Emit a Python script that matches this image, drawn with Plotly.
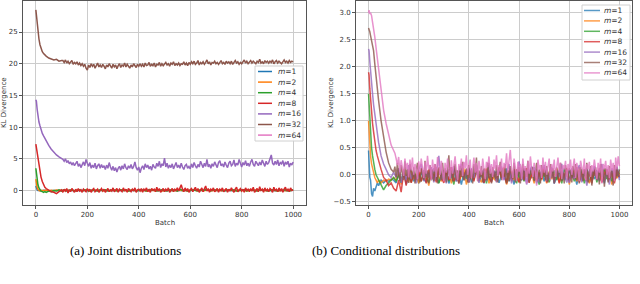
import plotly.graph_objects as go

# ---------------- data ----------------
BATCH_HEAD = [0, 2, 5, 8, 12, 16, 20, 25, 30, 35, 40, 50, 60, 70, 80, 90, 100]
BATCH = BATCH_HEAD + list(range(110, 1001, 10))        # step-10 logging
BATCH_DENSE = BATCH_HEAD + list(range(105, 1001, 5))   # step-5 logging

M_LABELS = ["1", "2", "4", "8", "16", "32", "64"]
COLORS = ["#1f77b4", "#ff7f0e", "#2ca02c", "#d62728", "#9467bd", "#8c564b", "#e377c2"]

X_TICKS = [0, 200, 400, 600, 800, 1000]
Y_TICKS_JOINT = [0, 5, 10, 15, 20, 25]
Y_TICKS_COND = [-0.5, 0.0, 0.5, 1.0, 1.5, 2.0, 2.5, 3.0]

# (a) Joint distributions
J_M1 = [0.7, 0.3, 0.1, 0.0, -0.05, 0.02, -0.03, 0.0, 0.04, -0.02, 0.01, -0.04, 0.02, 0.0, -0.03, 0.03, -0.01,
        0.02, -0.03, 0.04, -0.01, 0.03, -0.04, 0.01, 0.03, -0.02, 0.0,
        -0.03, 0.02, 0.0, 0.04, -0.02, 0.01, -0.04, 0.03, 0.0, -0.01,
        0.03, -0.02, 0.01, -0.03, 0.04, 0.0, -0.01, 0.02, -0.04, 0.03,
        0.0, 0.02, -0.03, 0.01, 0.04, -0.02, 0.0, -0.03, 0.02, 0.01,
        -0.02, 0.03, 0.0, -0.04, 0.02, 0.01, 0.03, -0.01, 0.0, -0.03,
        0.04, -0.02, 0.01, 0.0, -0.03, 0.02, 0.03, -0.04, 0.01, 0.0,
        -0.01, 0.03, -0.02, 0.04, 0.0, -0.03, 0.02, 0.01, -0.02, 0.03,
        0.0, -0.04, 0.02, 0.03, -0.01, 0.0, 0.04, -0.03, 0.01, -0.02,
        0.03, 0.0, -0.02, 0.01, 0.04, -0.03, 0.0, 0.02, -0.01, 0.03]
J_M2 = [1.8, 1.1, 0.45, 0.15, 0.0, -0.1, 0.05, -0.08, 0.02, -0.05, 0.06, -0.04, 0.03, -0.06, 0.05, -0.02, 0.04,
        -0.06, 0.08, -0.02, 0.05, -0.09, 0.03, 0.07, -0.05, 0.0, 0.09,
        -0.07, 0.02, 0.06, -0.04, 0.08, -0.08, 0.01, 0.05, -0.03, 0.07,
        0.0, -0.06, 0.09, -0.02, 0.04, -0.08, 0.06, 0.01, -0.05, 0.08,
        -0.03, 0.05, -0.07, 0.02, 0.09, -0.04, 0.0, 0.06, -0.08, 0.03,
        0.07, -0.02, 0.04, -0.06, 0.01, 0.08, -0.05, 0.03, -0.09, 0.05,
        -0.01, 0.07, -0.04, 0.06, -0.07, 0.02, 0.09, -0.03, 0.04, -0.06,
        0.08, -0.05, 0.01, 0.06, -0.02, 0.07, -0.08, 0.03, 0.05, -0.04,
        0.02, -0.07, 0.08, -0.01, 0.05, -0.05, 0.03, 0.09, -0.06, 0.0,
        0.06, -0.03, 0.07, -0.08, 0.02, 0.04, -0.05, 0.08, -0.02, 0.05]
J_M4 = [3.5, 2.6, 1.6, 0.9, 0.4, 0.1, -0.1, -0.2, -0.3, -0.2, -0.3, -0.1, -0.2, 0.0, -0.1, 0.1, -0.1,
        0.1, -0.1, 0.0, 0.1, -0.1, 0.0, 0.1, -0.1, 0.1, 0.0,
        -0.1, 0.1, 0.0, -0.1, 0.1, 0.0, 0.1, -0.1, 0.0, 0.1,
        0.0, -0.1, 0.1, 0.0, 0.1, -0.1, 0.0, 0.1, -0.1, 0.0,
        0.1, 0.0, -0.1, 0.1, 0.0, 0.1, -0.1, 0.0, 0.1, 0.0,
        -0.1, 0.1, 0.0, 0.1, -0.1, 0.2, 0.0, 0.1, -0.1, 0.0,
        0.1, 0.0, -0.1, 0.1, 0.0, 0.1, 0.0, -0.1, 0.1, 0.0,
        0.0, 0.1, -0.1, 0.0, 0.1, 0.0, 0.1, -0.1, 0.0, 0.1,
        0.1, -0.1, 0.0, 0.1, 0.0, -0.1, 0.1, 0.0, 0.1, -0.1,
        0.0, 0.1, 0.0, -0.1, 0.1, 0.0, 0.1, -0.1, 0.0, 0.1]
J_M8 = [7.3, 6.8, 5.6, 4.6, 3.6, 2.8, 2.1, 1.4, 0.9, 0.5, 0.3, 0.0, -0.2, -0.3, -0.5, -0.2, 0.1,
        -0.3, 0.2, -0.1, 0.3, -0.4, 0.1, -0.2, 0.3, 0.0, -0.3,
        0.2, -0.2, 0.3, -0.1, 0.1, -0.3, 0.2, 0.0, -0.2, 0.3,
        -0.1, 0.2, -0.3, 0.1, 0.3, -0.2, 0.0, 0.2, -0.3, 0.1,
        0.3, -0.1, 0.2, -0.3, 0.0, 0.3, -0.2, 0.1, -0.1, 0.4,
        -0.2, 0.1, 0.3, -0.3, 0.2, 0.0, -0.2, 0.4, -0.1, 0.2,
        -0.3, 0.3, 0.0, -0.2, 0.2, -0.1, 0.4, -0.3, 0.1, 0.2,
        -0.1, 0.3, -0.3, 0.2, 0.0, 0.4, -0.2, 0.1, -0.3, 0.3,
        0.0, 0.2, -0.2, 0.5, -0.1, 0.3, -0.3, 0.1, 0.3, -0.2,
        0.2, -0.1, 0.4, -0.3, 0.1, 0.3, -0.2, 0.2, 0.0, 0.4,
        -0.1, 0.6, 0.9, 0.2, -0.2, 0.4, -0.1, 0.3, -0.3, 0.1,
        0.3, -0.2, 0.2, 0.5, -0.1, 0.3, -0.3, 0.1, 0.4, -0.2,
        0.2, 0.7, -0.1, 0.3, -0.3, 0.2, 0.0, 0.4, -0.2, 0.1,
        0.3, -0.3, 0.2, 0.0, 0.4, -0.2, 0.1, 0.3, -0.3, 0.2,
        -0.1, 0.4, 0.0, -0.3, 0.2, 0.5, -0.2, 0.1, 0.3, -0.1,
        0.2, -0.3, 0.4, 0.0, 0.2, -0.2, 0.3, -0.1, 0.5, -0.3,
        0.1, 0.3, -0.2, 0.6, 0.0, 0.2, -0.3, 0.4, -0.1, 0.2,
        -0.2, 0.3, 0.1, -0.3, 0.5, 0.0, 0.2, -0.2, 0.4, -0.1,
        0.3, -0.3, 0.2, 0.5, -0.1, 0.2, -0.2, 0.4, 0.0, 0.1]
J_M16 = [14.3, 14.1, 12.8, 11.8, 10.8, 10.2, 9.6, 9.0, 8.6, 8.2, 7.8, 7.1, 6.5, 6.0, 5.6, 5.3, 5.0,
         4.9, 4.6, 5.0, 4.4, 4.7, 4.2, 4.5, 4.0, 4.4, 3.9,
         4.3, 4.6, 3.8, 4.2, 3.6, 4.1, 4.5, 3.9, 4.9, 4.3,
         3.8, 4.4, 3.5, 4.0, 3.6, 4.3, 3.4, 3.9, 4.2, 3.5,
         4.1, 3.6, 3.9, 3.3, 4.0, 3.5, 4.4, 3.7, 3.2, 3.8,
         3.1, 3.6, 2.9, 3.5, 3.8, 3.2, 3.9, 3.4, 4.2, 3.6,
         3.3, 3.9, 3.5, 4.1, 3.4, 3.8, 4.5, 3.6, 3.2, 3.7,
         2.8, 3.5, 3.9, 3.3, 4.2, 3.6, 4.0, 3.4, 3.8, 3.2,
         4.1, 3.7, 3.5, 4.3, 3.8, 4.6, 3.6, 4.2, 3.9, 5.1,
         3.7, 4.3, 3.5, 4.0, 3.6, 4.2, 3.4, 3.9, 4.4, 3.6,
         4.0, 3.5, 4.3, 3.7, 3.3, 3.9, 4.1, 3.5, 3.8, 3.4,
         4.2, 3.6, 4.4, 3.9, 3.5, 4.1, 3.7, 4.6, 4.0, 3.6,
         4.3, 3.8, 4.9, 3.7, 4.1, 3.5, 4.2, 3.8, 4.5, 4.0,
         3.6, 4.4, 4.7, 3.9, 4.2, 3.7, 4.5, 4.0, 3.6, 4.3,
         4.6, 3.9, 4.1, 4.8, 3.8, 4.3, 4.0, 4.9, 4.2, 3.7,
         4.4, 4.0, 4.7, 3.9, 4.3, 3.8, 4.5, 4.9, 4.1, 3.8,
         4.6, 4.2, 3.9, 4.5, 4.0, 4.8, 4.3, 3.8, 4.6, 4.1,
         4.4, 4.9, 5.6, 4.3, 4.0, 4.6, 4.1, 4.8, 3.9, 4.4,
         4.2, 4.7, 3.8, 4.5, 4.1, 4.6, 3.7, 4.3, 4.0, 4.5]
J_M32 = [28.5, 27.6, 26.3, 25.0, 23.9, 23.0, 22.4, 21.9, 21.6, 21.3, 21.2, 20.9, 20.8, 20.6, 20.7, 20.4, 20.5,
         20.5, 20.2, 20.6, 20.1, 20.4, 20.0, 20.3, 20.5, 19.9, 20.2,
         20.0, 20.3, 19.8, 20.1, 19.7, 20.0, 19.6, 19.9, 19.3, 19.0,
         19.8, 19.4, 20.0, 19.6, 19.9, 19.3, 19.7, 20.1, 19.5, 19.8,
         19.4, 19.9, 19.6, 19.2, 19.8, 19.5, 20.0, 19.6, 19.3, 19.9,
         19.5, 19.8, 19.2, 19.7, 20.0, 19.4, 19.8, 19.6, 20.1, 19.5,
         19.9, 19.6, 19.3, 19.8, 19.5, 20.0, 19.7, 19.4, 19.9, 19.6,
         20.0, 19.6, 19.9, 19.5, 20.1, 19.7, 19.8, 20.2, 19.6, 19.9,
         19.7, 20.1, 19.5, 19.9, 19.8, 20.2, 19.6, 20.0, 19.7, 19.9,
         20.2, 19.8, 20.0, 19.6, 20.1, 19.9, 20.3, 19.7, 20.0, 19.8,
         20.1, 19.7, 20.0, 19.9, 20.3, 19.8, 20.1, 19.7, 20.2, 19.9,
         20.3, 20.0, 20.4, 19.9, 20.1, 20.5, 19.8, 20.2, 20.0, 20.3,
         19.9, 20.2, 20.6, 20.0, 20.3, 19.8, 20.2, 20.1, 20.4, 20.0,
         20.2, 19.9, 20.3, 20.5, 20.0, 20.2, 19.9, 20.4, 20.1, 20.3,
         20.0, 20.4, 19.9, 20.2, 20.5, 20.1, 20.3, 19.9, 20.2, 20.0,
         20.3, 20.6, 20.1, 20.4, 20.0, 20.3, 20.5, 20.1, 20.4, 20.2,
         20.0, 20.4, 20.2, 20.7, 20.1, 20.3, 20.0, 20.5, 20.2, 20.4,
         20.1, 20.4, 20.2, 20.6, 20.0, 20.3, 20.5, 20.1, 20.4, 20.2,
         20.0, 20.3, 20.6, 20.2, 20.4, 20.1, 20.5, 20.2, 20.4, 20.3]
J_M64 = []  # m=64 appears only in the legend of panel (a)

# (b) Conditional distributions
C_M1 = [0.45, 0.2, -0.05, -0.1, -0.35, -0.4, -0.25, -0.3, -0.2, -0.15, -0.2, -0.1, -0.15, -0.1, -0.12, -0.08, -0.1,
        -0.15, 0.02, -0.1, 0.08, -0.18, -0.04, 0.1, -0.12, 0.0, -0.16,
        0.06, -0.08, -0.14, 0.04, -0.1, 0.12, -0.06, -0.15, 0.02, -0.1,
        0.08, -0.16, -0.02, 0.1, -0.12, 0.0, -0.18, 0.05, -0.08, 0.12,
        -0.14, -0.02, 0.08, -0.1, 0.04, -0.16, 0.1, -0.06, -0.12, 0.02,
        0.06, -0.15, 0.0, -0.08, 0.12, -0.12, 0.04, -0.18, 0.08, -0.04,
        -0.1, 0.1, -0.14, 0.02, -0.06, 0.14, -0.16, 0.0, 0.06, -0.12,
        0.04, -0.08, 0.12, -0.16, -0.02, 0.08, -0.1, 0.02, -0.14, 0.1,
        -0.06, 0.04, -0.18, 0.06, -0.1, 0.0, 0.12, -0.14, 0.02, -0.08,
        0.08, -0.12, 0.0, -0.16, 0.1, -0.04, 0.06, -0.1, 0.14, -0.06]
C_M2 = [1.0, 0.8, 0.55, 0.35, 0.2, 0.1, 0.0, -0.05, -0.1, -0.15, -0.1, -0.15, -0.1, -0.12, -0.08, -0.1, -0.05,
        -0.1, 0.05, -0.18, 0.1, -0.04, -0.14, 0.08, -0.08, 0.02, -0.16,
        0.12, -0.06, 0.0, -0.2, 0.06, -0.1, 0.14, -0.04, -0.12, 0.04,
        -0.08, 0.1, -0.16, 0.02, 0.08, -0.12, -0.02, 0.12, -0.18, 0.0,
        0.06, -0.1, 0.1, -0.06, -0.14, 0.04, 0.12, -0.16, 0.02, -0.08,
        -0.12, 0.08, -0.04, 0.14, -0.18, 0.0, 0.06, -0.1, 0.1, -0.14,
        0.02, -0.06, 0.12, -0.12, 0.04, -0.16, 0.08, -0.02, -0.1, 0.1,
        -0.16, 0.06, -0.08, 0.0, 0.12, -0.14, 0.04, -0.06, 0.1, -0.18,
        0.02, 0.08, -0.12, 0.14, -0.04, -0.1, 0.06, -0.16, 0.0, 0.1,
        -0.08, 0.04, -0.14, 0.1, -0.02, 0.06, -0.18, 0.08, -0.06, 0.02]
C_M4 = [1.5, 1.3, 1.0, 0.75, 0.5, 0.35, 0.2, 0.1, 0.0, -0.05, -0.1, -0.2, -0.28, -0.2, -0.15, -0.1, -0.05,
        -0.12, 0.0, -0.15, 0.05, -0.1, -0.02, -0.14, 0.06, -0.08, 0.02,
        -0.12, 0.08, -0.06, -0.14, 0.04, -0.1, 0.1, -0.16, 0.0, -0.08,
        0.06, -0.12, 0.02, -0.18, 0.08, -0.04, 0.12, -0.1, 0.0, -0.14,
        0.04, -0.08, 0.1, -0.12, -0.02, 0.06, -0.16, 0.08, -0.06, 0.0,
        -0.1, 0.12, -0.04, 0.02, -0.14, 0.06, -0.08, 0.1, -0.16, 0.04,
        0.0, -0.12, 0.08, -0.06, 0.14, -0.1, 0.02, -0.18, 0.06, -0.04,
        0.1, -0.14, 0.0, 0.08, -0.1, 0.04, -0.16, 0.12, -0.02, -0.08,
        0.06, -0.12, 0.02, -0.06, 0.1, -0.16, 0.04, 0.0, -0.1, 0.08,
        -0.14, 0.06, -0.04, 0.12, -0.08, 0.02, -0.12, 0.1, -0.02, 0.04]
C_M8 = [1.9, 1.85, 1.6, 1.4, 1.15, 0.95, 0.8, 0.6, 0.45, 0.35, 0.25, 0.1, -0.05, -0.1, -0.2, -0.15, -0.25,
        -0.3, -0.1, -0.32, 0.05, -0.2, 0.1, -0.15, 0.0, -0.1, 0.08,
        -0.12, 0.05, -0.16, 0.1, -0.08, 0.02, -0.14, 0.12, -0.05, -0.15,
        0.06, -0.1, 0.14, -0.12, 0.0, -0.16, 0.08, -0.06, 0.1, -0.14,
        0.02, -0.12, 0.12, -0.08, 0.05, -0.15, 0.1, -0.04, -0.14, 0.06,
        -0.1, 0.14, -0.06, 0.02, -0.16, 0.08, -0.12, 0.1, -0.02, -0.14,
        0.06, -0.1, 0.12, -0.15, 0.0, 0.08, -0.12, 0.04, -0.08, 0.14,
        -0.14, 0.02, 0.1, -0.1, 0.05, -0.16, 0.08, -0.04, 0.12, -0.12,
        0.04, -0.08, 0.14, -0.14, 0.0, 0.1, -0.12, 0.06, -0.16, 0.08,
        -0.06, 0.12, -0.14, 0.02, 0.1, -0.1, 0.04, -0.16, 0.08, -0.04]
C_M16 = [2.33, 2.3, 2.1, 1.9, 1.7, 1.5, 1.3, 1.1, 0.9, 0.75, 0.6, 0.35, 0.2, 0.1, 0.0, -0.05, 0.05,
         -0.05, 0.12, -0.15, 0.08, -0.1, 0.18, -0.08, 0.05, -0.16, 0.1,
         0.2, -0.12, 0.06, -0.05, 0.14, -0.14, 0.02, 0.35, -0.1, 0.08,
         -0.16, 0.1, -0.04, 0.16, -0.12, 0.04, 0.2, -0.1, 0.06, -0.14,
         0.12, -0.06, 0.18, -0.15, 0.03, 0.1, -0.12, 0.22, -0.05, 0.08,
         -0.14, 0.06, 0.15, -0.1, 0.02, 0.2, -0.16, 0.08, -0.06, 0.25,
         -0.1, 0.12, -0.18, 0.04, 0.16, -0.08, 0.1, -0.14, 0.06, 0.18,
         -0.12, 0.02, 0.14, -0.16, 0.08, -0.04, 0.2, -0.1, 0.05, -0.15,
         0.12, -0.08, 0.04, 0.18, -0.14, 0.06, -0.2, 0.1, 0.0, 0.16,
         -0.1, 0.08, 0.2, -0.12, 0.04, -0.18, 0.12, -0.06, 0.15, -0.1]
C_M32 = [2.72, 2.7, 2.65, 2.58, 2.5, 2.4, 2.3, 2.05, 1.8, 1.58, 1.38, 1.0, 0.7, 0.42, 0.22, 0.1, 0.05,
         0.15, -0.05, 0.22, 0.0, -0.12, 0.18, 0.06, -0.1, 0.25, -0.02,
         0.1, -0.15, 0.2, 0.04, -0.08, 0.14, -0.16, 0.08, 0.22, -0.06,
         -0.14, 0.12, 0.02, -0.1, 0.26, -0.04, 0.08, -0.16, 0.18, 0.0,
         0.1, -0.12, 0.2, -0.02, -0.16, 0.14, 0.04, -0.1, 0.22, -0.06,
         0.12, -0.14, 0.06, 0.36, -0.08, 0.14, -0.12, 0.02, 0.2, -0.1,
         0.08, -0.16, 0.16, -0.04, 0.24, -0.1, 0.04, 0.12, -0.14, 0.18,
         -0.06, 0.1, -0.16, 0.2, 0.02, 0.32, -0.12, 0.08, -0.04, 0.16,
         -0.14, 0.12, 0.0, -0.1, 0.22, -0.06, 0.1, -0.16, 0.14, 0.04,
         -0.08, 0.18, -0.14, 0.06, 0.24, -0.1, 0.12, -0.04, 0.2, -0.16,
         0.08, -0.12, 0.16, 0.0, -0.08, 0.22, -0.14, 0.1, -0.02, 0.14,
         -0.16, 0.06, 0.2, -0.1, 0.12, -0.04, 0.26, -0.14, 0.08, 0.0,
         0.14, -0.12, 0.04, 0.22, -0.08, 0.1, -0.16, 0.18, -0.02, 0.08,
         -0.1, 0.16, -0.14, 0.06, 0.2, -0.06, 0.12, -0.16, 0.02, 0.14,
         -0.08, 0.1, 0.22, -0.12, 0.04, -0.16, 0.18, 0.0, -0.1, 0.12,
         0.06, -0.14, 0.16, -0.04, 0.2, -0.1, 0.08, -0.16, 0.14, 0.02,
         -0.12, 0.1, -0.06, 0.22, -0.14, 0.04, 0.16, -0.2, 0.08, -0.02,
         0.14, -0.1, 0.06, -0.18, 0.2, -0.04, 0.1, -0.22, 0.12, 0.0,
         -0.14, 0.16, -0.06, 0.08, -0.2, 0.18, -0.08, 0.12, -0.04, 0.1]
C_M64 = [3.0, 3.05, 2.98, 3.0, 2.95, 2.85, 2.75, 2.55, 2.35, 2.15, 2.0, 1.6, 1.2, 0.95, 0.75, 0.55, 0.45,
         0.4, 0.3, 0.18, 0.33, 0.05, 0.27, 0.12, -0.02, 0.3, 0.1,
         0.22, -0.05, 0.28, 0.08, 0.32, 0.0, 0.2, 0.1, -0.08, 0.25,
         0.05, 0.3, 0.12, -0.06, 0.24, 0.02, 0.35, 0.1, 0.18, -0.1,
         0.28, 0.06, 0.2, -0.04, 0.33, 0.1, 0.0, 0.26, 0.08, -0.12,
         0.22, 0.04, 0.3, 0.12, -0.08, 0.27, 0.02, 0.18, 0.34, 0.06,
         -0.1, 0.2, 0.08, 0.3, -0.02, 0.24, 0.12, 0.36, 0.0, 0.16,
         0.28, -0.06, 0.14, 0.32, 0.04, 0.22, -0.12, 0.26, 0.1, 0.0,
         0.3, 0.08, -0.08, 0.24, 0.14, 0.34, 0.02, 0.2, -0.04, 0.28,
         0.1, 0.36, -0.02, 0.18, 0.06, 0.3, -0.1, 0.22, 0.12, 0.4,
         0.04, 0.26, 0.46, 0.1, -0.06, 0.3, 0.14, -0.12, 0.24, 0.06,
         0.2, -0.08, 0.3, 0.08, 0.16, -0.16, 0.26, 0.02, 0.34, 0.12,
         -0.04, 0.22, 0.06, -0.2, 0.28, 0.1, 0.18, -0.06, 0.32, 0.04,
         0.24, 0.0, 0.16, 0.3, -0.1, 0.2, 0.06, 0.28, -0.04, 0.14,
         0.32, 0.04, 0.22, -0.08, 0.18, 0.1, 0.26, -0.14, 0.2, 0.08,
         0.28, 0.0, 0.16, 0.3, -0.06, 0.22, 0.08, -0.12, 0.26, 0.12,
         0.02, 0.3, -0.1, 0.2, 0.1, 0.24, -0.04, 0.18, 0.06, 0.28,
         0.12, -0.08, 0.22, 0.04, 0.3, -0.16, 0.2, 0.1, 0.26, 0.0,
         0.18, -0.06, 0.28, 0.08, 0.22, -0.12, 0.32, 0.1, 0.34, 0.16]

JOINT = [J_M1, J_M2, J_M4, J_M8, J_M16, J_M32, J_M64]
COND = [C_M1, C_M2, C_M4, C_M8, C_M16, C_M32, C_M64]

CAPTION_A = "(a) Joint distributions"
CAPTION_B = "(b) Conditional distributions"
FIG_CAPTION = ("Figure 1: Empirical KL divergence between the learned and true joint distributions "
               "and the conditional distributions learned by")

# ---------------- figure ----------------
W, H = 640, 284


def px(x):
    return x / W


def py(y):
    return 1 - y / H


def batches_for(ys):
    if len(ys) == len(BATCH_DENSE):
        return BATCH_DENSE
    return BATCH[:len(ys)]


fig = go.Figure()
for i, lab in enumerate(M_LABELS):
    ys = JOINT[i]
    fig.add_trace(go.Scatter(x=batches_for(ys), y=ys, mode="lines", name="m=" + lab,
                             line=dict(color=COLORS[i], width=1.5), xaxis="x", yaxis="y",
                             showlegend=False))
for i, lab in enumerate(M_LABELS):
    ys = COND[i]
    fig.add_trace(go.Scatter(x=batches_for(ys), y=ys, mode="lines", name="m=" + lab,
                             line=dict(color=COLORS[i], width=1.5), opacity=0.8,
                             xaxis="x2", yaxis="y2", showlegend=False))

axis_common = dict(showline=True, linecolor="#555555", linewidth=1, mirror=True,
                   ticks="outside", ticklen=3, tickcolor="#555555", tickwidth=1,
                   showgrid=True, gridcolor="#cccccc", gridwidth=1, zeroline=False,
                   tickfont=dict(family="DejaVu Sans", size=7, color="#333333"),
                   automargin=False)

fig.update_layout(
    width=W, height=H, margin=dict(l=0, r=0, t=0, b=0),
    paper_bgcolor="white", plot_bgcolor="white", template="none",
    xaxis=dict(domain=[px(23), px(306)], range=[-50, 1050], tickvals=X_TICKS, anchor="y", **axis_common),
    yaxis=dict(domain=[py(205), py(1)], range=[-2.3, 29.9], tickvals=Y_TICKS_JOINT, anchor="x", **axis_common),
    xaxis2=dict(domain=[px(356), px(632)], range=[-50, 1050], tickvals=X_TICKS, anchor="y2", **axis_common),
    yaxis2=dict(domain=[py(205), py(1)], range=[-0.56, 3.22], tickvals=Y_TICKS_COND, tickformat=".1f",
                anchor="x2", **axis_common),
)

ann = []
shapes = []
lab_font = dict(family="DejaVu Sans", size=7, color="#333333")


def text_at(x, y, text, font, xanchor="center", yanchor="middle", **kw):
    ann.append(dict(x=px(x), y=py(y), xref="paper", yref="paper", text=text, showarrow=False,
                    xanchor=xanchor, yanchor=yanchor, font=font, **kw))


# axis titles
text_at(164.5, 223, "Batch", lab_font)
text_at(494, 223, "Batch", lab_font)
text_at(4, 103, "KL Divergence", lab_font, textangle=-90)
text_at(331, 103, "KL Divergence", lab_font, textangle=-90)


# manual legends
def legend(x0, x1, y0, y1, lx0, lx1, tx, ty0, dy, alpha):
    shapes.append(dict(type="rect", xref="paper", yref="paper", x0=px(x0), x1=px(x1), y0=py(y1), y1=py(y0),
                       line=dict(color="#d0d0d0", width=1), fillcolor="rgba(255,255,255,0.85)", layer="above"))
    for i, lab in enumerate(M_LABELS):
        yy = ty0 + i * dy
        shapes.append(dict(type="line", xref="paper", yref="paper", x0=px(lx0), x1=px(lx1), y0=py(yy), y1=py(yy),
                           line=dict(color=COLORS[i], width=1.5), opacity=alpha, layer="above"))
        text_at(tx, yy, "<i>m</i>=" + lab, dict(family="DejaVu Sans", size=7.5, color="#333333"),
                xanchor="left")


legend(255, 303, 66, 141, 258, 272, 276, 71.5, 10.6, 1.0)
legend(582, 630, 5, 80, 584, 600, 602, 10.5, 10.4, 0.75)

# captions
cap_font = dict(family="Liberation Serif", size=13, color="black")
text_at(125, 250, CAPTION_A, cap_font)
text_at(386, 250, CAPTION_B, cap_font)
text_at(8, 280, FIG_CAPTION, dict(family="Liberation Serif", size=12.5, color="#555555"),
        xanchor="left", yanchor="top")

fig.update_layout(annotations=ann, shapes=shapes)
fig.write_html("out.html", config={"displayModeBar": False},
               post_script="document.body.style.margin='0';document.body.style.overflow='hidden';")
